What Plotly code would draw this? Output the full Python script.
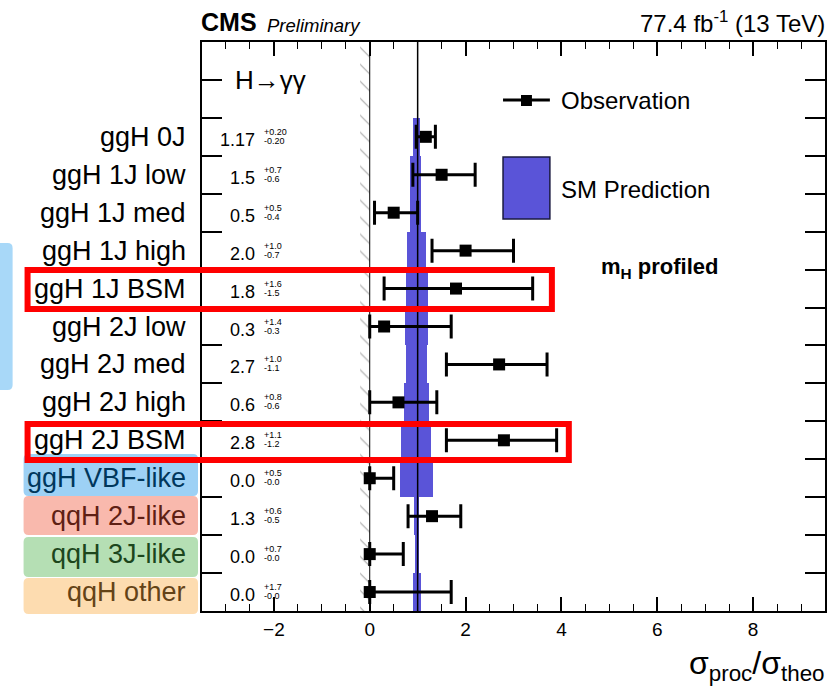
import plotly.graph_objects as go

# ---------------- data ----------------
categories = ["ggH 0J", "ggH 1J low", "ggH 1J med", "ggH 1J high", "ggH 1J BSM",
              "ggH 2J low", "ggH 2J med", "ggH 2J high", "ggH 2J BSM",
              "ggH VBF-like", "qqH 2J-like", "qqH 3J-like", "qqH other"]
obs_value = [1.17, 1.5, 0.5, 2.0, 1.8, 0.3, 2.7, 0.6, 2.8, 0.0, 1.3, 0.0, 0.0]
obs_err_up = [0.20, 0.7, 0.5, 1.0, 1.6, 1.4, 1.0, 0.8, 1.1, 0.5, 0.6, 0.7, 1.7]
obs_err_dn = [0.20, 0.6, 0.4, 0.7, 1.5, 0.3, 1.1, 0.6, 1.2, 0.0, 0.5, 0.0, 0.0]
value_text = ["1.17", "1.5", "0.5", "2.0", "1.8", "0.3", "2.7", "0.6", "2.8",
              "0.0", "1.3", "0.0", "0.0"]
up_text = ["+0.20", "+0.7", "+0.5", "+1.0", "+1.6", "+1.4", "+1.0", "+0.8", "+1.1",
           "+0.5", "+0.6", "+0.7", "+1.7"]
dn_text = ["-0.20", "-0.6", "-0.4", "-0.7", "-1.5", "-0.3", "-1.1", "-0.6", "-1.2",
           "-0.0", "-0.5", "-0.0", "-0.0"]
sm_lo = [0.91, 0.84, 0.84, 0.785, 0.75, 0.74, 0.75, 0.71, 0.65, 0.64, 0.93, 0.95, 0.91]
sm_hi = [1.05, 1.08, 1.08, 1.17, 1.21, 1.21, 1.20, 1.24, 1.28, 1.33, 1.03, 1.03, 1.06]
sm_value = 1.0
x_ticks = [-2, 0, 2, 4, 6, 8]

label_colors = ["black"] * 9 + ["#00375c", "#5f1f14", "#1c461c", "#644317"]
label_bg = [None] * 9 + ["#9dd1f5", "#f9b9ad", "#b5dfb4", "#fddcb0"]

# ---------------- layout geometry ----------------
W, H = 835, 691
L, R, T, B = 202, 8, 42, 80
PW, PH = W - L - R, H - T - B
XR = [-3.5, 9.5]
YR = [-0.5, 14.5]
n = len(categories)
ypos = [n - 1 - i for i in range(n)]


def px_x(p):
    return (p - L) / PW


def px_y(p):
    return (H - B - p) / PH


FONT = "Liberation Sans, Arial, sans-serif"
BLUE = "#5a54d8"

fig = go.Figure()

# hatched unphysical region
fig.add_trace(go.Scatter(
    x=[-0.2, 0, 0, -0.2, -0.2], y=[YR[0], YR[0], YR[1], YR[1], YR[0]],
    fill="toself", mode="lines", line=dict(width=0, color="rgba(0,0,0,0)"),
    fillcolor="rgba(255,255,255,0)",
    fillpattern=dict(shape="\\", fgcolor="#555555", bgcolor="white", size=12, solidity=0.1),
    hoverinfo="skip", showlegend=False))

# SM prediction band
fig.add_trace(go.Bar(
    orientation="h", y=ypos, x=[h - l for l, h in zip(sm_lo, sm_hi)], base=sm_lo,
    width=1.0, marker=dict(color=BLUE, line=dict(width=0)), showlegend=False,
    hoverinfo="skip"))

# zero line and SM line
fig.add_trace(go.Scatter(x=[0, 0], y=YR, mode="lines", line=dict(color="black", width=1),
                         hoverinfo="skip", showlegend=False))
fig.add_trace(go.Scatter(x=[sm_value, sm_value], y=YR, mode="lines",
                         line=dict(color="black", width=1.5), hoverinfo="skip", showlegend=False))

# observations
fig.add_trace(go.Scatter(
    x=obs_value, y=ypos, mode="markers",
    marker=dict(symbol="square", size=12, color="black"),
    error_x=dict(type="data", symmetric=False, array=obs_err_up, arrayminus=obs_err_dn,
                 color="black", thickness=3, width=12),
    showlegend=False, cliponaxis=False))

shapes = []
annotations = []

bg_px = {9: (454, 496), 10: (496, 535), 11: (537, 577), 12: (578, 614)}


def rounded_rect(x0, y0, x1, y1, r=5):
    rx, ry = r / PW, r / PH
    X0, X1 = px_x(x0), px_x(x1)
    Y0, Y1 = px_y(y1), px_y(y0)
    return (f"M{X0+rx},{Y0} L{X1-rx},{Y0} Q{X1},{Y0} {X1},{Y0+ry} "
            f"L{X1},{Y1-ry} Q{X1},{Y1} {X1-rx},{Y1} L{X0+rx},{Y1} "
            f"Q{X0},{Y1} {X0},{Y1-ry} L{X0},{Y0+ry} Q{X0},{Y0} {X0+rx},{Y0} Z")


for i, c in enumerate(label_bg):
    if c:
        y0, y1 = bg_px[i]
        shapes.append(dict(type="path", xref="paper", yref="paper",
                           path=rounded_rect(23, y0, 198, y1), fillcolor=c,
                           line=dict(width=0), layer="below"))
shapes.append(dict(type="path", xref="paper", yref="paper",
                   path=rounded_rect(-12, 243, 12, 390), fillcolor="#a8d8f8",
                   line=dict(width=0), layer="below"))

# red highlight boxes
shapes.append(dict(type="rect", xref="paper", yref="paper",
                   x0=px_x(27), x1=px_x(553), y0=px_y(309), y1=px_y(270),
                   line=dict(color="#ff0000", width=6)))
shapes.append(dict(type="rect", xref="paper", yref="paper",
                   x0=px_x(27), x1=px_x(570), y0=px_y(460), y1=px_y(424),
                   line=dict(color="#ff0000", width=6)))

# legend
shapes.append(dict(type="line", xref="paper", yref="paper",
                   x0=px_x(504), x1=px_x(551), y0=px_y(100), y1=px_y(100),
                   line=dict(color="black", width=3)))
shapes.append(dict(type="rect", xref="paper", yref="paper",
                   x0=px_x(522), x1=px_x(533), y0=px_y(106), y1=px_y(95),
                   fillcolor="black", line=dict(width=0)))
shapes.append(dict(type="rect", xref="paper", yref="paper",
                   x0=px_x(504), x1=px_x(551), y0=px_y(219), y1=px_y(157),
                   fillcolor=BLUE, line=dict(color="#1a1a40", width=1.5)))

annotations.append(dict(text="Observation", xref="paper", yref="paper", x=px_x(560), y=px_y(100),
                        xanchor="left", yanchor="middle", showarrow=False,
                        font=dict(size=24, family=FONT, color="black")))
annotations.append(dict(text="SM Prediction", xref="paper", yref="paper", x=px_x(560), y=px_y(189),
                        xanchor="left", yanchor="middle", showarrow=False,
                        font=dict(size=24, family=FONT, color="black")))
annotations.append(dict(text="<b>m<sub>H</sub> profiled</b>", xref="paper", yref="paper",
                        x=px_x(600), y=px_y(268), xanchor="left", yanchor="middle", showarrow=False,
                        font=dict(size=22, family=FONT, color="black")))
annotations.append(dict(text="H→γγ", xref="paper", yref="paper", x=px_x(233), y=px_y(80),
                        xanchor="left", yanchor="middle", showarrow=False,
                        font=dict(size=26, family=FONT, color="black")))

# header
annotations.append(dict(text="<b>CMS</b>", xref="paper", yref="paper", x=px_x(199), y=px_y(22),
                        xanchor="left", yanchor="middle", showarrow=False,
                        font=dict(size=25, family=FONT, color="black")))
annotations.append(dict(text="<i>Preliminary</i>", xref="paper", yref="paper", x=px_x(265), y=px_y(25),
                        xanchor="left", yanchor="middle", showarrow=False,
                        font=dict(size=18.5, family=FONT, color="black")))
annotations.append(dict(text="77.4 fb<sup>-1</sup> (13 TeV)", xref="paper", yref="paper",
                        x=px_x(829), y=px_y(22), xanchor="right", yanchor="middle", showarrow=False,
                        font=dict(size=24, family=FONT, color="black")))

# x axis title
annotations.append(dict(text="σ<sub>proc</sub>/σ<sub>theo</sub>", xref="paper", yref="paper",
                        x=px_x(829), y=px_y(665), xanchor="right", yanchor="middle", showarrow=False,
                        font=dict(size=32, family=FONT, color="black")))

# row labels and values
for i, cat in enumerate(categories):
    yi = ypos[i]
    annotations.append(dict(text=cat, xref="paper", yref="y", x=0, y=yi, xshift=-14,
                            xanchor="right", yanchor="middle", showarrow=False,
                            font=dict(size=27, family=FONT, color=label_colors[i])))
    annotations.append(dict(text=value_text[i], xref="paper", yref="y", x=0, y=yi, xshift=55,
                            yshift=-3, xanchor="right", yanchor="middle", showarrow=False,
                            font=dict(size=18, family=FONT, color="black")))
    annotations.append(dict(text=up_text[i], xref="paper", yref="y", x=0, y=yi, xshift=60,
                            yshift=5, xanchor="left", yanchor="middle", showarrow=False,
                            font=dict(size=9, family=FONT, color="black")))
    annotations.append(dict(text=dn_text[i], xref="paper", yref="y", x=0, y=yi, xshift=60,
                            yshift=-4, xanchor="left", yanchor="middle", showarrow=False,
                            font=dict(size=9, family=FONT, color="black")))

fig.update_layout(
    width=W, height=H, margin=dict(l=L, r=R, t=T, b=B, pad=0),
    paper_bgcolor="white", plot_bgcolor="white",
    bargap=0, barmode="overlay",
    shapes=shapes, annotations=annotations,
    font=dict(family=FONT, color="black"),
    xaxis=dict(range=XR, tickvals=x_ticks, ticktext=["\u22122" if v < 0 else str(v) for v in x_ticks],
               ticks="inside", ticklen=14, tickwidth=1.5, tickcolor="black",
               showline=True, linecolor="black", linewidth=2, mirror="ticks",
               showgrid=False, zeroline=False,
               tickfont=dict(size=19, family=FONT, color="black"),
               minor=dict(dtick=0.5, tick0=0, ticks="inside", ticklen=7, tickwidth=1.2,
                          tickcolor="black", showgrid=False)),
    yaxis=dict(range=YR, tickvals=[k + 0.5 for k in range(n + 1)],
               ticks="inside", ticklen=20, tickwidth=1.5, tickcolor="black",
               showticklabels=False, showline=True, linecolor="black", linewidth=2,
               mirror="ticks", showgrid=False, zeroline=False),
)

fig.write_html("out.html")
